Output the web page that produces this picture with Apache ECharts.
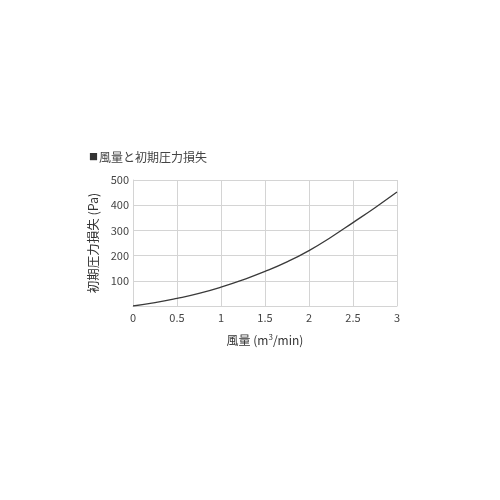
<!DOCTYPE html>
<html>
<head>
<meta charset="utf-8">
<script src="https://cdn.jsdelivr.net/npm/echarts@6/dist/echarts.min.js"></script>
<style>
  html, body { margin: 0; padding: 0; background: #fff; }
  #chart { width: 500px; height: 500px; }
</style>
</head>
<body>
<div id="chart"></div>
<script>
// 風量 (m3/min) と初期圧力損失 (Pa)
const airflow = [0, 0.25, 0.5, 0.75, 1, 1.25, 1.5, 1.75, 2, 2.25, 2.5, 2.75, 3];
const pressure = [0, 13, 30, 50, 75, 104, 137, 175, 220, 273, 331, 390, 452];
const xTicks = [0, 0.5, 1, 1.5, 2, 2.5, 3];
const yTicks = [0, 100, 200, 300, 400, 500];

const FONT = "'Noto Sans CJK JP', 'Noto Sans', sans-serif";

const chart = echarts.init(document.getElementById("chart"));

chart.setOption({
  animation: false,
  backgroundColor: "#fff",
  title: {
    text: "{q|■}{t|風量と初期圧力損失}",
    left: 84,
    top: 146,
    textStyle: {
      fontWeight: "normal",
      rich: {
        q: { fontFamily: FONT, fontSize: 9, fontWeight: "normal", color: "#333", padding: [0, 1, 0, 0] },
        t: { fontFamily: FONT, fontSize: 12, fontWeight: "normal", color: "#444" }
      }
    }
  },
  grid: { left: 133, right: 103, top: 180, bottom: 194 },
  xAxis: {
    type: "value",
    min: 0,
    max: 3,
    interval: 0.5,
    name: "{n|風量 (m}{s|3}{n|/min)}",
    nameLocation: "middle",
    nameGap: 27,
    nameTextStyle: {
      rich: {
        n: { fontFamily: FONT, fontSize: 12, color: "#333" },
        s: { fontFamily: FONT, fontSize: 8, color: "#333", verticalAlign: "top", padding: [0, 0, 6, 0] }
      }
    },
    axisLine: { show: true, lineStyle: { color: "#d4d4d4", width: 1 } },
    axisTick: { show: false },
    axisLabel: {
      fontFamily: FONT, fontSize: 11, color: "#444", margin: 6,
      formatter: (v) => (xTicks.includes(v) ? String(v) : "")
    },
    splitLine: { show: true, lineStyle: { color: "#d4d4d4", width: 1 } }
  },
  yAxis: {
    type: "value",
    min: 0,
    max: 500,
    interval: 100,
    name: "初期圧力損失 (Pa)",
    nameLocation: "middle",
    nameGap: 31,
    nameRotate: 90,
    nameTextStyle: { fontFamily: FONT, fontSize: 12.5, color: "#333" },
    axisLine: { show: true, lineStyle: { color: "#d4d4d4", width: 1 } },
    axisTick: { show: false },
    axisLabel: {
      fontFamily: FONT, fontSize: 11, color: "#444", margin: 4,
      formatter: (v) => (v === 0 || !yTicks.includes(v) ? "" : String(v))
    },
    splitLine: { show: true, lineStyle: { color: "#d4d4d4", width: 1 } }
  },
  series: [
    {
      type: "line",
      data: airflow.map((x, i) => [x, pressure[i]]),
      smooth: true,
      showSymbol: false,
      lineStyle: { color: "#3a3a3a", width: 1.3 }
    }
  ]
});
</script>
</body>
</html>
